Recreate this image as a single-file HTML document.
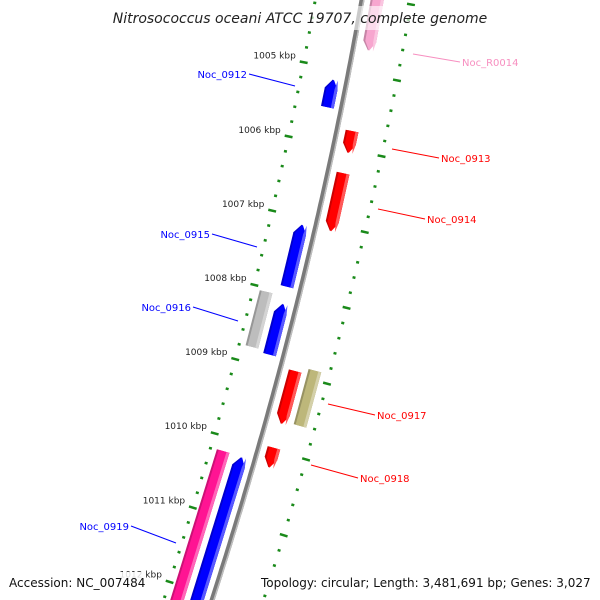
<!DOCTYPE html>
<html><head><meta charset="utf-8"><style>
html,body{margin:0;padding:0;background:#fff;width:600px;height:600px;overflow:hidden;}
svg{display:block;font-family:"DejaVu Sans","Liberation Sans",sans-serif;}
</style></head><body>
<svg id="map" width="600" height="600" viewBox="0 0 600 600" xmlns="http://www.w3.org/2000/svg">
<g id="ticks"></g>
<path id="backbone" fill="none" stroke="#7a7a7a" stroke-width="5"/>
<path id="backbone-hl" fill="none" stroke="#bdbdbd" stroke-width="1.5"/>
<g id="genes"></g>
<g id="labels"></g>
<rect x="110" y="6" width="380" height="24" fill="#fff" fill-opacity="0.6"/>
<text x="300" y="23" text-anchor="middle" font-size="14" font-style="italic" fill="#222">Nitrosococcus oceani ATCC 19707, complete genome</text>
<rect x="4" y="572" width="142" height="22" fill="#fff" fill-opacity="0.85"/>
<text x="9" y="587" font-size="12" fill="#111">Accession: NC_007484</text>
<rect x="256" y="572" width="340" height="22" fill="#fff" fill-opacity="0.85"/>
<text x="261" y="587" font-size="12" fill="#111">Topology: circular; Length: 3,481,691 bp; Genes: 3,027</text>
</svg>
<script>
// gene data
const geneNames = ["Noc_R0014","Noc_0912","Noc_0913","Noc_0914","Noc_0915","gene_grey","Noc_0916","Noc_0917","gene_khaki","Noc_0918","Noc_0919","gene_blue_last"];
const geneStart = [1003.92,1005.15,1005.76,1006.32,1007.09,1008.05,1008.15,1008.95,1008.88,1009.97,1010.19,1010.20];
const geneEnd   = [1004.69,1005.52,1006.05,1007.09,1007.92,1008.79,1008.83,1009.65,1009.61,1010.23,1012.43,1012.40];
const geneLane  = [1,-1,1,1,-1,-2,-1,1,2,1,-2,-1];
const geneStrand= [-1,1,-1,-1,1,0,1,-1,0,-1,0,1];
const geneColor = ["#f7a6cf","#0000ff","#ff0000","#ff0000","#0000ff","#bdbdbd","#0000ff","#ff0000","#bdb77a","#ff0000","#ff1493","#0000ff"];
const majorTicks = [1004,1005,1006,1007,1008,1009,1010,1011,1012,1013];
const tickLabels = ["1004 kbp","1005 kbp","1006 kbp","1007 kbp","1008 kbp","1009 kbp","1010 kbp","1011 kbp","1012 kbp","1013 kbp"];

const NS="http://www.w3.org/2000/svg";
const A=-0.000122,B=-0.1767,C=362;
function bx(y){return A*y*y+B*y+C;}
function slope(y){return 2*A*y+B;}
function yOf(kbp){return 71+(kbp-1005)*75;}
function pt(kbp,off){const y=yOf(kbp);const s=slope(y);const n=Math.sqrt(1+s*s);return [bx(y)+off/n, y-off*s/n];}
function mk(tag,attrs,parent){const e=document.createElementNS(NS,tag);for(const k in attrs)e.setAttribute(k,attrs[k]);parent.appendChild(e);return e;}

let d="";for(let y=-10;y<=610;y+=5){d+=(y===-10?"M":"L")+bx(y).toFixed(1)+","+y+" ";}
document.getElementById("backbone").setAttribute("d",d);
let d2="";for(let y=-10;y<=610;y+=5){d2+=(y===-10?"M":"L")+(bx(y)+1.8).toFixed(1)+","+y+" ";}
document.getElementById("backbone-hl").setAttribute("d",d2);

const tg=document.getElementById("ticks");
const LO=-46,RO=49;
for(let k=1003.6;k<=1012.6;k+=0.2){
  const kr=Math.round(k*10)/10;
  const major=Math.abs(kr-Math.round(kr))<0.01;
  const half=major?4:1.5;
  [LO,RO].forEach(o=>{
    const a=pt(kr,o-half),b=pt(kr,o+half);
    const l=mk("line",{x1:a[0],y1:a[1],x2:b[0],y2:b[1],stroke:"#1a8a1a","stroke-width":2.5},tg);
    
    
  });
}
majorTicks.forEach((m,i)=>{
  const p=pt(m,LO-8);
  if(p[1]<0||p[1]>600) return;
  const t=mk("text",{x:p[0],y:p[1]-2,"font-size":9,"text-anchor":"end",fill:"#222"},tg);
  t.textContent=tickLabels[i];
  
  
});

const gg=document.getElementById("genes");
function shade(hex,f){const n=parseInt(hex.slice(1),16);let r=n>>16,g=(n>>8)&255,b=n&255;
  const m=c=>Math.max(0,Math.min(255,Math.round(f>0?c+(255-c)*f:c*(1+f))));return "rgb("+m(r)+","+m(g)+","+m(b)+")";}
geneNames.forEach((nm,i)=>{
  const lane=geneLane[i];const c=lane>0?(lane===1?15:34):(lane===-1?-14:-33);
  const w=6.5;const s=geneStart[i],e=geneEnd[i];const ah=0.12;
  function poly(o1,o2){
    let pts=[];
    if(geneStrand[i]===1){pts=[pt(s+ah,o1),pt(s,(o1+o2)/2),pt(s+ah,o2),pt(e,o2),pt(e,o1)];}
    else if(geneStrand[i]===-1){pts=[pt(e-ah,o1),pt(e,(o1+o2)/2),pt(e-ah,o2),pt(s,o2),pt(s,o1)];}
    else pts=[pt(s,o1),pt(e,o1),pt(e,o2),pt(s,o2)];
    return pts.map(p=>p[0].toFixed(1)+","+p[1].toFixed(1)).join(" ");
  }
  const g=mk("g",{},gg);
  
  
  mk("polygon",{points:poly(c-w,c+w),fill:shade(geneColor[i],-0.2)},g);
  mk("polygon",{points:poly(c-w+2,c+w),fill:geneColor[i]},g);
  mk("polygon",{points:poly(c+w-3,c+w),fill:shade(geneColor[i],0.35)},g);
});

const labelText=["Noc_R0014","Noc_0912","Noc_0913","Noc_0914","Noc_0915","Noc_0916","Noc_0917","Noc_0918","Noc_0919"];
const labelColor=["#f78fc0","#0000ff","#ff0000","#ff0000","#0000ff","#0000ff","#ff0000","#ff0000","#0000ff"];
const labelPos=[[462,66,"start",413,54,460,62],[247,78,"end",295,86,249,74],[441,162,"start",392,149,439,158],[427,223,"start",378,209,425,219],[210,238,"end",257,247,212,234],[191,311,"end",238,321,193,307],[377,419,"start",328,404,375,415],[360,482,"start",311,465,358,478],[129,530,"end",176,543,131,526]];
const lg=document.getElementById("labels");
labelText.forEach((t,i)=>{
  const p=labelPos[i];
  const l=mk("line",{x1:p[3],y1:p[4],x2:p[5],y2:p[6],stroke:labelColor[i],"stroke-width":1},lg);
  
  
  const tx=mk("text",{x:p[0],y:p[1],"text-anchor":p[2],"font-size":10,fill:labelColor[i]},lg);
  tx.textContent=t;
  
  
});
</script>
</body></html>
